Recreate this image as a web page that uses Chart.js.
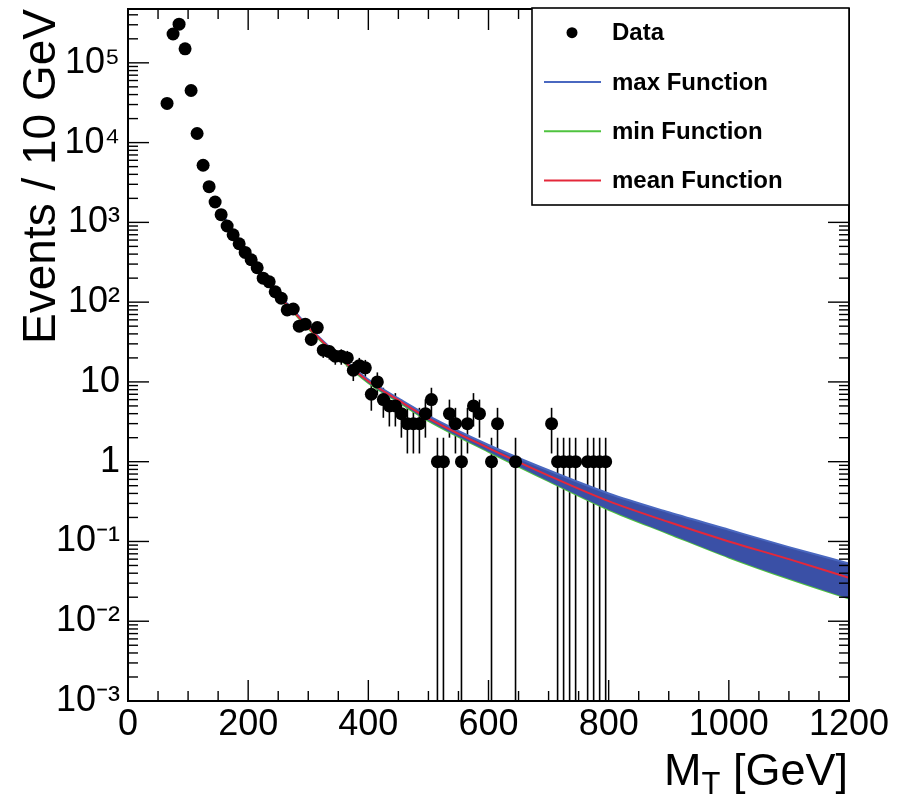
<!DOCTYPE html>
<html lang="en">
<head>
<meta charset="UTF-8">
<title>Events / 10 GeV vs M_T</title>
<script src="https://cdn.jsdelivr.net/npm/chart.js@4.4.1/dist/chart.umd.min.js"></script>
<style>
  html, body { margin: 0; padding: 0; background: #fff; }
</style>
</head>
<body>
<canvas id="mtChart" width="898" height="796"></canvas>

<script>
    // data points: bin centre (GeV) and events per 10 GeV bin
    const dataMT = [65, 75, 85, 95, 105, 115, 125, 135, 145, 155, 165, 175, 185, 195, 205, 215, 225, 235, 245, 255,
        265, 275, 285, 295, 305, 315, 325, 335, 345, 355, 365, 375, 385, 395, 405, 415, 425, 435, 445, 455,
        465, 475, 485, 495, 505, 515, 525, 535, 545, 555, 565, 575, 585, 605, 615, 645, 705, 715, 725, 735,
        745, 765, 775, 785, 795];
    const dataEvents = [3.1e4, 2.3e5, 3.05e5, 1.5e5, 4.5e4, 1.3e4, 5200, 2800, 1800, 1250, 900, 700, 540, 420, 340, 270, 200, 180, 135, 112,
        80, 82, 50, 53, 34, 48, 25, 24, 21, 21, 20, 14, 16, 15, 7, 10, 6, 5, 5, 4,
        3, 3, 3, 4, 6, 1, 1, 4, 3, 1, 3, 5, 4, 1, 3, 1, 3, 1, 1, 1,
        1, 1, 1, 1, 1];

    // fitted functions
    const funcMT = [155, 175, 200, 225, 250, 275, 300, 350, 400, 450, 500, 600, 700, 800, 900, 1000, 1100, 1200];
    const maxFunc = [1400, 740, 385, 212, 126, 80, 49.5, 21.8, 10.7, 6.2, 3.75, 1.62, 0.78, 0.40, 0.232, 0.14, 0.085, 0.053];
    const minFunc = [1320, 700, 360, 200, 118, 75, 46.5, 20.2, 9.7, 5.6, 3.25, 1.33, 0.57, 0.25, 0.125, 0.063, 0.034, 0.0192];
    const meanMT = [195, 225, 250, 275, 300, 350, 400, 450, 500, 600, 700, 800, 900, 1000, 1100, 1200];
    const meanFunc = [420, 206, 122, 77, 48, 21, 10.2, 5.9, 3.5, 1.48, 0.67, 0.32, 0.175, 0.10, 0.06, 0.035];

    const yTickValues = [1e-3, 1e-2, 1e-1, 1, 10, 1e2, 1e3, 1e4, 1e5];
    const yTickLabels = ['10⁻³', '10⁻²', '10⁻¹', '1', '10', '10²', '10³', '10⁴', '10⁵'];
    const legendLabels = ['Data', 'max Function', 'min Function', 'mean Function'];

    const FONT = '"Liberation Sans", Arial, sans-serif';
    Chart.defaults.font.family = FONT;
    Chart.defaults.color = '#000';

    function points(xs, ys) {
        return xs.map((x, i) => ({ x: x, y: ys[i] }));
    }

    // vertical sqrt(N) error bars on the data points
    const errorBars = {
        id: 'errorBars',
        beforeDatasetsDraw(chart) {
            const { ctx, chartArea: a, scales: { x, y } } = chart;
            ctx.save();
            ctx.beginPath();
            ctx.rect(a.left, a.top, a.width, a.height);
            ctx.clip();
            ctx.strokeStyle = '#000';
            ctx.lineWidth = 1.6;
            dataMT.forEach((mt, i) => {
                const n = dataEvents[i];
                const err = Math.sqrt(n);
                const px = x.getPixelForValue(mt);
                const lo = n - err > 0 ? y.getPixelForValue(n - err) : a.bottom;
                const hi = y.getPixelForValue(n + err);
                ctx.beginPath();
                ctx.moveTo(px, lo);
                ctx.lineTo(px, hi);
                ctx.stroke();
            });
            ctx.restore();
        }
    };

    // ROOT style frame with inward ticks on all four sides, plus x title
    const frame = {
        id: 'frame',
        afterDraw(chart) {
            const { ctx, chartArea: a, scales: { x, y } } = chart;
            ctx.save();
            ctx.strokeStyle = '#000';
            ctx.lineWidth = 1.4;
            const line = (x1, y1, x2, y2) => {
                ctx.beginPath();
                ctx.moveTo(x1, y1);
                ctx.lineTo(x2, y2);
                ctx.stroke();
            };
            for (let v = x.min; v <= x.max; v += 50) {
                const px = x.getPixelForValue(v);
                const len = v % 200 === 0 ? 21 : 10;
                line(px, a.bottom, px, a.bottom - len);
                line(px, a.top, px, a.top + len);
            }
            yTickValues.forEach(dec => {
                for (let m = 1; m <= 9; m++) {
                    const v = m * dec;
                    if (v > y.max) break;
                    const py = y.getPixelForValue(v);
                    const len = m === 1 ? 21 : 10;
                    line(a.left, py, a.left + len, py);
                    line(a.right, py, a.right - len, py);
                }
            });
            ctx.lineWidth = 2;
            ctx.strokeRect(a.left, a.top, a.width, a.height);

            // x axis title: M_T [GeV], right aligned
            ctx.fillStyle = '#000';
            ctx.textBaseline = 'alphabetic';
            ctx.font = '45px ' + FONT;
            const wM = ctx.measureText('M').width;
            const wRest = ctx.measureText(' [GeV]').width;
            ctx.font = '31px ' + FONT;
            const wT = ctx.measureText('T').width;
            const right = a.right - 1;
            const base = 785;
            let tx = right - wRest - wT - wM;
            ctx.font = '45px ' + FONT;
            ctx.fillText('M', tx, base);
            ctx.font = '31px ' + FONT;
            ctx.fillText('T', tx + wM, base + 9);
            ctx.font = '45px ' + FONT;
            ctx.fillText(' [GeV]', tx + wM + wT, base);
            ctx.restore();
        }
    };

    // boxed legend in the top right corner
    const boxLegend = {
        id: 'boxLegend',
        afterDraw(chart) {
            const { ctx, chartArea: a } = chart;
            const left = a.right - 317, top = a.top - 1, bottom = a.top + 196;
            ctx.save();
            ctx.fillStyle = '#fff';
            ctx.fillRect(left, top, a.right - left, bottom - top);
            ctx.strokeStyle = '#000';
            ctx.lineWidth = 1.6;
            ctx.strokeRect(left, top, a.right - left, bottom - top);
            const rowH = (bottom - top) / legendLabels.length;
            const order = [0, 2, 3, 1]; // dataset index for each legend row
            legendLabels.forEach((label, i) => {
                const cy = top + rowH * (i + 0.5);
                const ds = chart.data.datasets[order[i]];
                if (i === 0) {
                    ctx.fillStyle = '#000';
                    ctx.beginPath();
                    ctx.arc(left + 40, cy, 5.5, 0, Math.PI * 2);
                    ctx.fill();
                } else {
                    ctx.strokeStyle = ds.borderColor;
                    ctx.lineWidth = 2;
                    ctx.beginPath();
                    ctx.moveTo(left + 12, cy);
                    ctx.lineTo(left + 69, cy);
                    ctx.stroke();
                }
                ctx.fillStyle = '#000';
                ctx.font = 'bold 24px ' + FONT;
                ctx.textBaseline = 'middle';
                ctx.fillText(label, left + 80, cy + 1);
            });
            ctx.restore();
        }
    };

    let mtCtx = document.getElementById('mtChart').getContext('2d');
    let mtChart = new Chart(mtCtx, {
        type: 'scatter',
        data: {
            datasets: [{
                label: 'Data',
                data: points(dataMT, dataEvents),
                pointRadius: 6.5,
                pointBackgroundColor: '#000',
                pointBorderColor: '#000',
                pointBorderWidth: 0
            }, {
                label: 'mean Function',
                data: points(meanMT, meanFunc),
                showLine: true,
                borderColor: '#e4283a',
                borderWidth: 2,
                pointRadius: 0,
                cubicInterpolationMode: 'monotone',
                fill: false
            }, {
                label: 'max Function',
                data: points(funcMT, maxFunc),
                showLine: true,
                borderColor: '#4a68c0',
                backgroundColor: '#3a50a6',
                borderWidth: 2,
                pointRadius: 0,
                cubicInterpolationMode: 'monotone',
                fill: '+1'
            }, {
                label: 'min Function',
                data: points(funcMT, minFunc),
                showLine: true,
                borderColor: '#4fc33f',
                borderWidth: 2,
                pointRadius: 0,
                cubicInterpolationMode: 'monotone',
                fill: false
            }]
        },
        options: {
            responsive: false,
            animation: false,
            events: [],
            layout: { padding: { top: 9, right: 49, left: 0, bottom: 0 } },
            plugins: {
                legend: { display: false },
                tooltip: { enabled: false }
            },
            scales: {
                x: {
                    type: 'linear',
                    min: 0,
                    max: 1200,
                    grid: { display: false },
                    border: { display: false },
                    ticks: {
                        stepSize: 200,
                        padding: -6,
                        font: { size: 36 },
                        callback: v => String(v)
                    },
                    afterFit: s => { s.height = 95; s.paddingLeft = 0; s.paddingRight = 0; }
                },
                y: {
                    type: 'logarithmic',
                    min: 1e-3,
                    max: 4.73e5,
                    grid: { display: false },
                    border: { display: false },
                    ticks: {
                        padding: 0,
                        font: { size: 36 },
                        callback: (v, i) => yTickLabels[i]
                    },
                    afterBuildTicks: s => { s.ticks = yTickValues.map(v => ({ value: v })); },
                    afterFit: s => { s.width = 128; s.paddingTop = 0; s.paddingBottom = 0; },
                    title: {
                        display: true,
                        text: 'Events / 10 GeV',
                        align: 'end',
                        font: { size: 46 },
                        padding: { top: 15 }
                    }
                }
            }
        },
        plugins: [errorBars, frame, boxLegend]
    });
</script>
</body>
</html>
